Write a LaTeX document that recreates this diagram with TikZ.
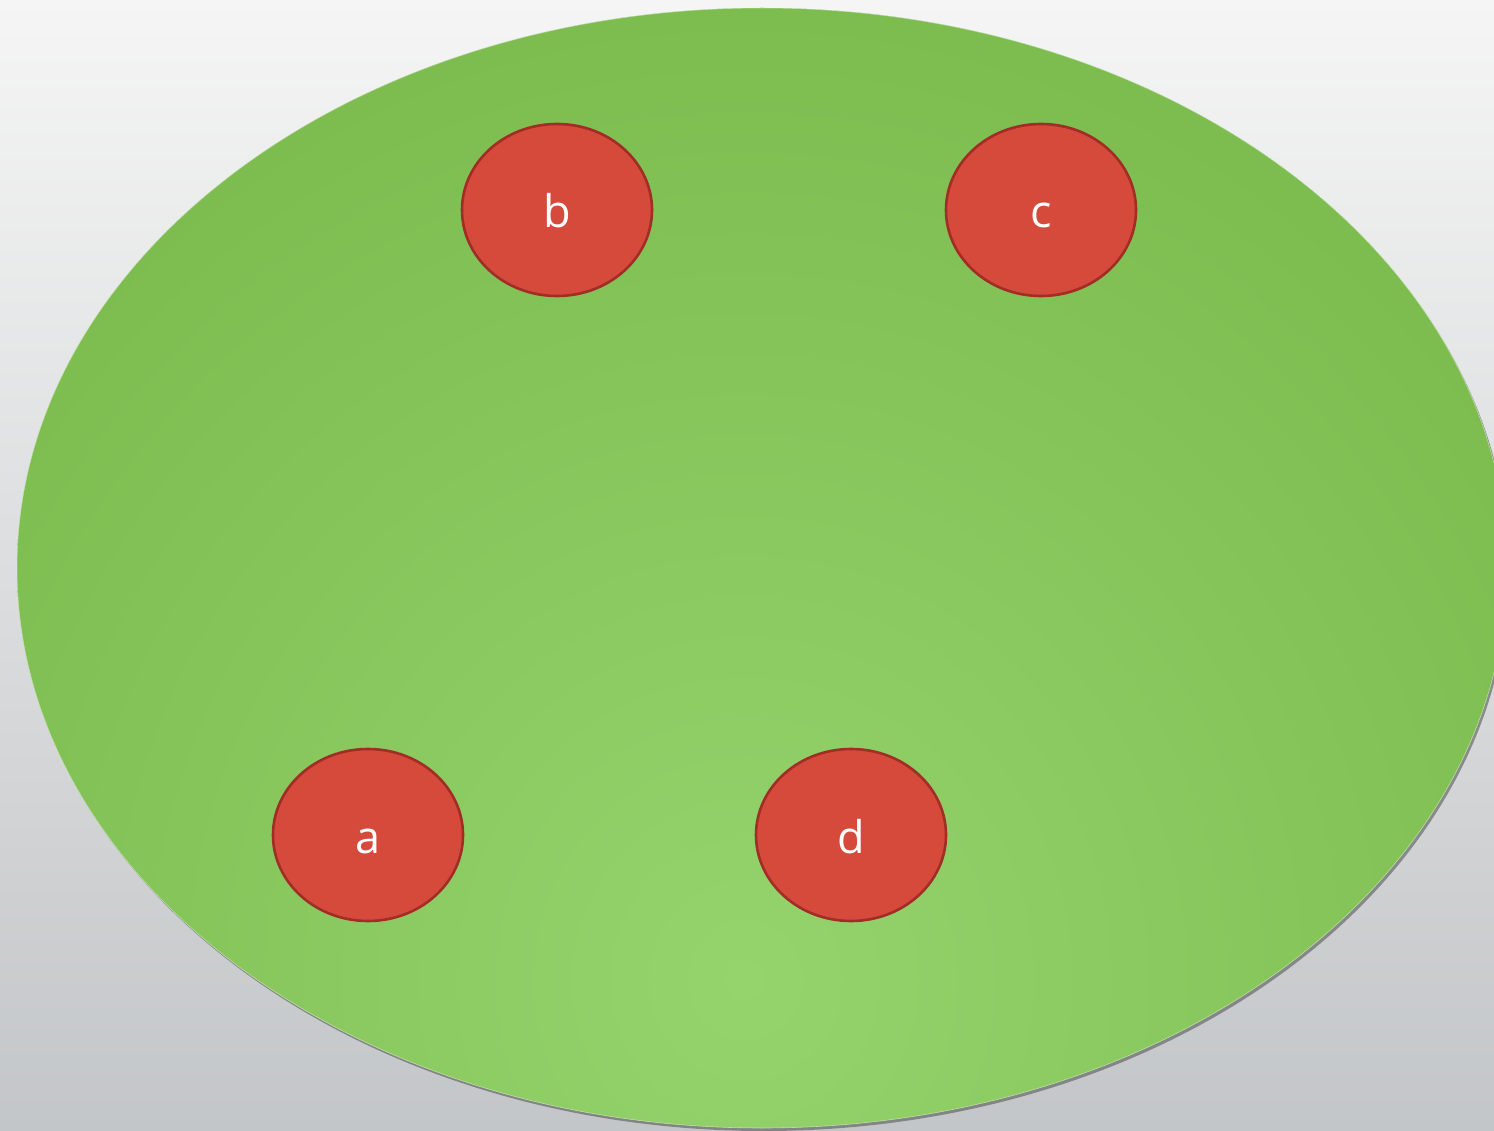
\documentclass[tikz,border=0pt]{standalone}
\usepackage{fontspec}
\setmainfont{Open Sans}
\usetikzlibrary{shapes.geometric}
\begin{document}
\begin{tikzpicture}[x=1pt,y=-1pt,
  dot/.style={ellipse, minimum width=190pt, minimum height=172pt, inner sep=0pt,
    text height=36pt, text depth=0pt,
    fill=dotfill, draw=dotedge, line width=2.6pt, text=white, font=\fontsize{45}{48}\selectfont},
]
\definecolor{bgtop}{HTML}{F5F5F5}
\definecolor{bgbot}{HTML}{C3C6C8}
\definecolor{gout}{HTML}{7BBA4C}
\definecolor{gin}{HTML}{95D46D}
\definecolor{dotfill}{HTML}{D64A3C}
\definecolor{dotedge}{HTML}{A12D26}
\useasboundingbox (0,0) rectangle (1494,1131);
\shade[top color=bgtop, bottom color=bgbot] (0,0) rectangle (1494,1131);
% shadow
\fill[black!65, opacity=0.6] (764,571) ellipse [x radius=745, y radius=560];
\fill[gout] (762,568) ellipse [x radius=745, y radius=560];
\begin{scope}
  \clip (762,568) ellipse [x radius=745, y radius=560];
  \shade[inner color=gin, outer color=gout] (745,980) ellipse [x radius=1000, y radius=1050];
\end{scope}
\draw[white!80!gout, line width=0.6pt, opacity=0.6] (762,568) ellipse [x radius=745, y radius=560];
\node[dot] (b) at (557,210) {b};
\node[dot] (c) at (1041,210) {c};
\node[dot] (a) at (368,835) {a};
\node[dot] (d) at (851,835) {d};
\end{tikzpicture}
\end{document}
